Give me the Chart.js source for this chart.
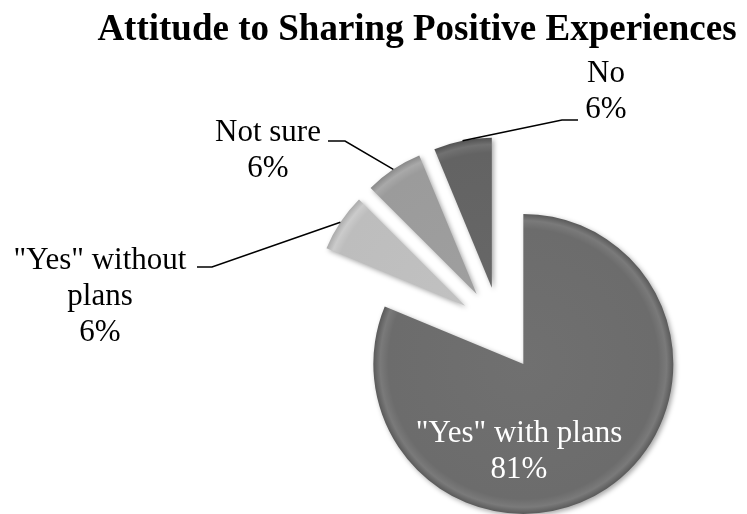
<!DOCTYPE html>
<html>
<head>
<meta charset="utf-8">
<script src="https://cdn.jsdelivr.net/npm/chart.js@4.4.1/dist/chart.umd.min.js"></script>
<style>
  html, body { margin: 0; padding: 0; background: #ffffff; }
  #wrap { width: 747px; height: 514px; }
</style>
</head>
<body>
<div id="wrap"><canvas id="chart" width="747" height="514"></canvas></div>
<script>
// Datos del grafico
const categories = ['"Yes" with plans', '"Yes" without plans', 'Not sure', 'No'];
const shares = [81.25, 6.25, 6.25, 6.25];
const labelLines = [['"Yes" with plans'], ['"Yes" without', 'plans'], ['Not sure'], ['No']];

// Estilo
const sliceColors = ['#6c6c6c', '#bdbdbd', '#9b9b9b', '#636363'];
const EXPLODE = 42;
const RADIUS = 150;
const FONT = '31px "Liberation Serif", "Times New Roman", serif';
const LINE_H = 36;

// Posicion de cada etiqueta: centro del texto, primera linea base, codo de la linea guia
const labelLayout = [
    { x: 519, y: 442, color: '#ffffff', inside: true },
    { x: 100, y: 269, color: '#000000', elbow: [212, 267], end: [197, 267] },
    { x: 268, y: 141, color: '#000000', elbow: [345, 141], end: [328, 141] },
    { x: 606, y: 82, color: '#000000', elbow: [562, 120], end: [578, 120] }
];

function shade(hex, d) {
    const v = parseInt(hex.slice(1, 3), 16);
    const c = Math.max(0, Math.min(255, v + d));
    return `rgb(${c}, ${c}, ${c})`;
}

// Degradado radial para el borde biselado
function sliceFill(c) {
    const base = sliceColors[c.dataIndex];
    const chart = c.chart;
    const area = chart.chartArea;
    if (!area) return base;
    const cx = (area.left + area.right) / 2;
    const cy = (area.top + area.bottom) / 2;
    const g = chart.ctx.createRadialGradient(cx, cy, 0, cx, cy, RADIUS);
    g.addColorStop(0, shade(base, 4));
    g.addColorStop(0.9, base);
    g.addColorStop(0.955, shade(base, 14));
    g.addColorStop(1, shade(base, -18));
    return g;
}

const explodedPie = {
    id: 'explodedPie',
    beforeDatasetDraw(chart, args) {
        const ctx = chart.ctx;
        args.meta.data.forEach(arc => {
            const mid = (arc.startAngle + arc.endAngle) / 2;
            ctx.save();
            ctx.translate(Math.cos(mid) * EXPLODE, Math.sin(mid) * EXPLODE);
            ctx.shadowColor = 'rgba(0, 0, 0, 0.35)';
            ctx.shadowBlur = 5;
            ctx.shadowOffsetX = 2;
            ctx.shadowOffsetY = 2;
            arc.draw(ctx);
            ctx.restore();
        });
        return false;
    },
    afterDatasetsDraw(chart) {
        const ctx = chart.ctx;
        const meta = chart.getDatasetMeta(0);
        ctx.save();
        ctx.font = FONT;
        ctx.textAlign = 'center';
        ctx.textBaseline = 'alphabetic';
        meta.data.forEach((arc, i) => {
            const lay = labelLayout[i];
            const mid = (arc.startAngle + arc.endAngle) / 2;
            if (!lay.inside) {
                const r = arc.outerRadius + EXPLODE;
                const sx = arc.x + Math.cos(mid) * r;
                const sy = arc.y + Math.sin(mid) * r;
                ctx.strokeStyle = '#000000';
                ctx.lineWidth = 1.5;
                ctx.beginPath();
                ctx.moveTo(sx, sy);
                ctx.lineTo(lay.elbow[0], lay.elbow[1]);
                ctx.lineTo(lay.end[0], lay.end[1]);
                ctx.stroke();
            }
            const lines = labelLines[i].concat([Math.round(shares[i]) + '%']);
            ctx.fillStyle = lay.color;
            lines.forEach((t, k) => ctx.fillText(t, lay.x, lay.y + k * LINE_H));
        });
        // Titulo
        ctx.font = 'bold 37px "Liberation Serif", "Times New Roman", serif';
        ctx.fillStyle = '#000000';
        ctx.fillText('Attitude to Sharing Positive Experiences', 417, 40);
        ctx.restore();
    }
};

new Chart(document.getElementById('chart'), {
    type: 'pie',
    data: {
        labels: categories,
        datasets: [{
            data: shares,
            backgroundColor: sliceFill,
            borderWidth: 0,
            radius: RADIUS
        }]
    },
    options: {
        responsive: false,
        animation: false,
        layout: { padding: { left: 253, right: 0, top: 144, bottom: 0 } },
        plugins: {
            legend: { display: false },
            tooltip: { enabled: false },
            title: { display: false }
        }
    },
    plugins: [explodedPie]
});
</script>
</body>
</html>
